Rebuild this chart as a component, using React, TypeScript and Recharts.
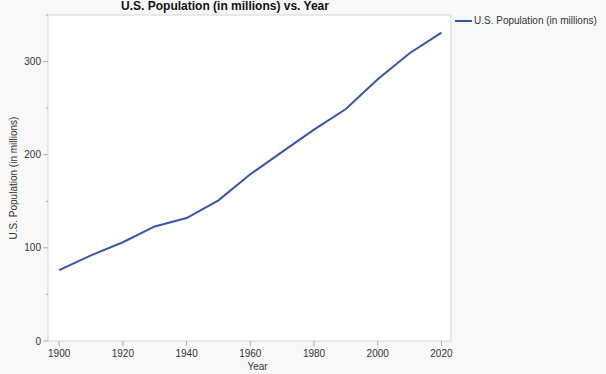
import { LineChart, Line, XAxis, YAxis, ReferenceArea, Legend } from "recharts";

const years = [1900, 1910, 1920, 1930, 1940, 1950, 1960, 1970, 1980, 1990, 2000, 2010, 2020];
const population = [76, 92, 106, 123, 132, 151, 179, 203, 227, 249, 281, 309, 331];
const xTicks = [1900, 1920, 1940, 1960, 1980, 2000, 2020];
const yTicks = [0, 50, 100, 150, 200, 250, 300, 350];

const data = years.map((year, i) => ({ year, pop: population[i] }));

const FONT = "'Liberation Sans', Arial, sans-serif";
const LINE_COLOR = "#3a55a5";

// y ticks: labelled major every 100, short minor every 50
const YTick = (props: any) => {
  const { x, y, payload } = props;
  const major = payload.value % 100 === 0;
  return (
    <g>
      <line x1={x + (major ? 3 : 6)} x2={x + 8} y1={y} y2={y} stroke="#aaa" />
      {major && (
        <text x={x + 1} y={y} dy={3.5} textAnchor="end" fontSize={10} fill="#333" fontFamily={FONT}>
          {payload.value}
        </text>
      )}
    </g>
  );
};

const XTick = (props: any) => {
  const { x, y, payload } = props;
  return (
    <g>
      <line x1={x} x2={x} y1={y - 8} y2={y - 3} stroke="#aaa" />
      <text x={x} y={y + 8} textAnchor="middle" fontSize={10} fill="#333" fontFamily={FONT}>
        {payload.value}
      </text>
    </g>
  );
};

const LegendContent = () => (
  <div style={{ display: "flex", alignItems: "center", fontFamily: FONT, fontSize: 10, color: "#333" }}>
    <span style={{ display: "inline-block", width: 17, height: 2, background: LINE_COLOR, marginRight: 2 }} />
    U.S. Population (in millions)
  </div>
);

export default function App() {
  return (
    <div style={{ position: "absolute", top: 0, left: 0, width: 606, height: 374, background: "#f8f8f8" }}>
      <div
        style={{
          position: "absolute",
          top: 0,
          left: 0,
          width: 450,
          textAlign: "center",
          fontFamily: FONT,
          fontWeight: "bold",
          fontSize: 12,
          lineHeight: "13px",
          color: "#111",
        }}
      >
        U.S. Population (in millions) vs. Year
      </div>
      <LineChart width={606} height={374} data={data} margin={{ top: 15, right: 5, bottom: 0, left: 0 }}>
        <ReferenceArea x1={1896.5} x2={2023} y1={0} y2={350} fill="#fff" fillOpacity={1} stroke="#d4d4d4" />
        <XAxis
          dataKey="year"
          type="number"
          domain={[1896.5, 2023]}
          ticks={xTicks}
          height={33}
          axisLine={false}
          tickLine={false}
          tick={<XTick />}
          label={{
            content: (p: any) => (
              <text
                x={p.viewBox.x + p.viewBox.width / 2 + 8}
                y={p.viewBox.y + 29}
                textAnchor="middle"
                fontSize={10}
                fill="#333"
                fontFamily={FONT}
              >
                Year
              </text>
            ),
          }}
        />
        <YAxis
          type="number"
          domain={[0, 350]}
          ticks={yTicks}
          width={48}
          axisLine={false}
          tickLine={false}
          tick={<YTick />}
          label={{
            content: (p: any) => {
              const cx = p.viewBox.x + 17;
              const cy = p.viewBox.y + p.viewBox.height / 2;
              return (
                <text
                  x={cx}
                  y={cy}
                  transform={`rotate(-90 ${cx} ${cy})`}
                  textAnchor="middle"
                  fontSize={10}
                  fill="#333"
                  fontFamily={FONT}
                >
                  U.S. Population (in millions)
                </text>
              );
            },
          }}
        />
        <Legend
          layout="vertical"
          align="right"
          verticalAlign="top"
          content={<LegendContent />}
          wrapperStyle={{ top: 15, left: 455, width: 150 }}
        />
        <Line
          type="linear"
          dataKey="pop"
          stroke={LINE_COLOR}
          strokeWidth={2}
          dot={false}
          isAnimationActive={false}
        />
      </LineChart>
    </div>
  );
}
